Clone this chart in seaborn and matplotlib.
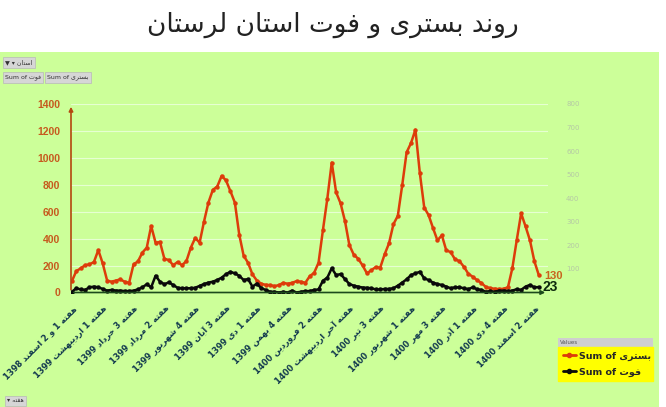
import numpy as np
import pandas as pd
import seaborn as sns
import matplotlib.pyplot as plt
from matplotlib.lines import Line2D
from matplotlib.patches import Rectangle

# weekly values for Lorestan
hospitalized = [84, 159, 179, 203, 209, 226, 315, 216, 89, 80,
                89, 97, 80, 72, 209, 231, 296, 333, 494, 370,
                375, 251, 241, 203, 226, 203, 233, 333, 405, 370,
                527, 668, 762, 787, 866, 832, 752, 668, 430, 273,
                221, 134, 89, 65, 57, 55, 47, 55, 72, 65,
                72, 84, 80, 72, 121, 146, 221, 464, 698, 965,
                743, 663, 531, 352, 281, 251, 201, 142, 166, 189,
                184, 283, 365, 507, 569, 797, 1041, 1110, 1209, 887,
                631, 574, 478, 387, 425, 313, 300, 246, 233, 191,
                140, 117, 92, 70, 41, 32, 28, 25, 28, 38,
                180, 388, 588, 491, 388, 233, 130]
deaths = [3, 18, 13, 11, 22, 25, 22, 15, 8, 11,
          8, 8, 6, 6, 8, 13, 22, 35, 22, 71,
          46, 35, 43, 32, 20, 18, 18, 18, 20, 28,
          36, 42, 46, 53, 63, 78, 88, 81, 71, 53,
          57, 25, 38, 18, 11, 3, 3, 0, 3, 0,
          8, 0, 3, 6, 6, 11, 13, 50, 63, 103,
          74, 78, 57, 36, 29, 25, 21, 20, 18, 13,
          13, 15, 15, 18, 29, 42, 56, 74, 81, 88,
          60, 53, 42, 36, 32, 25, 18, 22, 22, 18,
          14, 22, 14, 11, 3, 6, 3, 8, 8, 6,
          8, 14, 11, 25, 32, 22, 23]
week_labels = ['هفته 1 و 2 اسفند 1398', 'هفته 1 اردیبهشت 1399', 'هفته 3 خرداد 1399',
               'هفته 2 مرداد 1399', 'هفته 4 شهریور 1399', 'هفته 3 آبان 1399',
               'هفته 1 دی 1399', 'هفته 4 بهمن 1399', 'هفته 2 فروردین 1400',
               'هفته آخر اردیبهشت 1400', 'هفته 3 تیر 1400', 'هفته 1 شهریور 1400',
               'هفته 3 مهر 1400', 'هفته 1 آذر 1400', 'هفته 4 دی 1400', 'هفته 2 اسفند 1400']
label_step = 7
title = 'روند بستری و فوت استان لرستان'
hosp_name = 'بستری'
death_name = 'فوت'

# matplotlib has no arabic shaping, so pick the presentation forms by hand
FORMS = {
    'ا': ('\uFE8D', '\uFE8E', None, None), 'آ': ('\uFE81', '\uFE82', None, None),
    'ب': ('\uFE8F', '\uFE90', '\uFE91', '\uFE92'), 'ت': ('\uFE95', '\uFE96', '\uFE97', '\uFE98'),
    'خ': ('\uFEA5', '\uFEA6', '\uFEA7', '\uFEA8'), 'د': ('\uFEA9', '\uFEAA', None, None),
    'ذ': ('\uFEAB', '\uFEAC', None, None), 'ر': ('\uFEAD', '\uFEAE', None, None),
    'ز': ('\uFEAF', '\uFEB0', None, None), 'س': ('\uFEB1', '\uFEB2', '\uFEB3', '\uFEB4'),
    'ش': ('\uFEB5', '\uFEB6', '\uFEB7', '\uFEB8'), 'ف': ('\uFED1', '\uFED2', '\uFED3', '\uFED4'),
    'ل': ('\uFEDD', '\uFEDE', '\uFEDF', '\uFEE0'), 'م': ('\uFEE1', '\uFEE2', '\uFEE3', '\uFEE4'),
    'ن': ('\uFEE5', '\uFEE6', '\uFEE7', '\uFEE8'), 'ه': ('\uFEE9', '\uFEEA', '\uFEEB', '\uFEEC'),
    'و': ('\uFEED', '\uFEEE', None, None), 'ی': ('\uFBFC', '\uFBFD', '\uFBFE', '\uFBFF'),
}


def shape_word(word):
    out = []
    for k, ch in enumerate(word):
        if ch not in FORMS:
            out.append(ch)
            continue
        prev = word[k - 1] if k > 0 else None
        nxt = word[k + 1] if k + 1 < len(word) else None
        join_prev = prev in FORMS and FORMS[prev][2] is not None
        join_next = nxt in FORMS and FORMS[ch][2] is not None
        iso, fin, ini, med = FORMS[ch]
        if join_prev and join_next:
            out.append(med)
        elif join_prev:
            out.append(fin)
        elif join_next:
            out.append(ini)
        else:
            out.append(iso)
    return ''.join(reversed(out))


def fa(text, rtl=True):
    toks = [shape_word(t) if any(c in FORMS for c in t) else t for t in text.split(' ')]
    if rtl:
        toks = toks[::-1]
    return ' '.join(toks)


RED = '#dd3c0a'
ORANGE = '#c65a1e'
NAVY = '#123a4e'
GREEN_BG = '#ccff99'

sns.set_theme(style='white')
plt.rcParams['font.family'] = ['DejaVu Sans']

df = pd.DataFrame({'week': np.arange(len(hospitalized)),
                   'hosp': hospitalized, 'death': deaths})

fig = plt.figure(figsize=(6.66, 4.07), dpi=100)
fig.patch.set_facecolor('white')
fig.patches.append(Rectangle((0, 0), 659 / 666, 355 / 407, transform=fig.transFigure,
                             facecolor=GREEN_BG, edgecolor='none', zorder=-5))

ax = fig.add_axes([71 / 666, 114.5 / 407, 477 / 666, 188.5 / 407])
ax.set_facecolor('none')
sns.lineplot(data=df, x='week', y='hosp', ax=ax, color=RED, marker='o',
             markersize=3.2, markeredgewidth=0, linewidth=1.8)
ax.set_xlim(-0.2, 108.1)
ax.set_ylim(0, 1400)
ax.set_yticks(range(0, 1401, 200))
ax.yaxis.grid(True, color='#e6ffd2', linewidth=0.8)
ax.xaxis.grid(False)
ax.set_xlabel('')
ax.set_ylabel('')
for s in ax.spines.values():
    s.set_visible(False)
ax.tick_params(axis='y', length=0, pad=8, labelcolor=ORANGE, labelsize=7.5)
for t in ax.get_yticklabels():
    t.set_fontweight('bold')
    t.set_family('Liberation Sans')

ticks = list(range(0, len(hospitalized), label_step))
ax.set_xticks(ticks)
ax.set_xticklabels([fa(t) for t in week_labels], rotation=45, ha='right',
                   rotation_mode='anchor', fontsize=6, fontweight='bold', color=NAVY)
ax.tick_params(axis='x', length=0, pad=8)

ax2 = ax.twinx()
sns.lineplot(data=df, x='week', y='death', ax=ax2, color='#0a0a0a', marker='o',
             markersize=3.2, markeredgewidth=0, linewidth=1.8)
ax2.set_ylim(0, 800)
ax2.set_yticks(range(100, 801, 100))
ax2.set_ylabel('')
ax2.grid(False)
for s in ax2.spines.values():
    s.set_visible(False)
ax2.tick_params(axis='y', length=0, pad=13, labelcolor='#b5c8a5', labelsize=5)

# axis lines with arrow heads
ax.annotate('', xy=(0, 1.0), xytext=(0, 0), xycoords='axes fraction',
            arrowprops=dict(arrowstyle='-|>', color='#b4470f', lw=1.2, mutation_scale=6))
ax2.annotate('', xy=(1.0, 0), xytext=(0, 0), xycoords='axes fraction',
             arrowprops=dict(arrowstyle='-|>', color='#1c4a1c', lw=1.2, mutation_scale=6))

last = len(hospitalized) - 1
ax.annotate(str(hospitalized[-1]), xy=(last, hospitalized[-1]), xytext=(4, -1),
            textcoords='offset points', va='center', ha='left', color='#c8641e',
            fontsize=8, fontweight='bold', family='Liberation Sans')
ax2.annotate(str(deaths[-1]), xy=(last, deaths[-1]), xytext=(3, 0),
             textcoords='offset points', va='center', ha='left', color='#0d2a0d',
             fontsize=10, fontweight='bold', family='Liberation Sans')

fig.text(0.5, 1 - 25 / 407, fa(title), ha='center', va='center', fontsize=19, color='#222222')

# pivot-chart buttons
btn = dict(boxstyle='square,pad=0.35', fc='#d6d6d6', ec='#b8b8b8', lw=0.5)
fig.text(5 / 666, 1 - 62.5 / 407, '▼ ▾ ' + fa('استان'), fontsize=4.5, va='center', color='#333', bbox=btn)
fig.text(5 / 666, 1 - 77.5 / 407, fa('Sum of ' + death_name, rtl=False), fontsize=4.5, va='center', color='#333', bbox=btn)
fig.text(47 / 666, 1 - 77.5 / 407, fa('Sum of ' + hosp_name, rtl=False), fontsize=4.5, va='center', color='#333', bbox=btn)
fig.text(7 / 666, 1 - 401 / 407, '▾ ' + fa('هفته'), fontsize=4.5, va='center', color='#333', bbox=btn)

# legend box
fig.patches.append(Rectangle((558 / 666, (407 - 347) / 407), 95 / 666, 9 / 407,
                             transform=fig.transFigure, facecolor='#cfcfcf', edgecolor='none'))
fig.text(560 / 666, 1 - 342.5 / 407, 'Values', fontsize=4, va='center', color='#555')
handles = [Line2D([], [], color=RED, marker='o', ms=3, lw=2),
           Line2D([], [], color='#0a0a0a', marker='o', ms=3, lw=2)]
fig.legend(handles, [fa('Sum of ' + hosp_name, rtl=False), fa('Sum of ' + death_name, rtl=False)],
           loc='upper left', bbox_to_anchor=(558 / 666, 19 / 407, 95 / 666, 41 / 407),
           mode='expand', facecolor='#ffff00', edgecolor='#ffff00', framealpha=1,
           fancybox=False, borderpad=0.5, labelspacing=0.7, handlelength=1.4,
           handletextpad=0.3, borderaxespad=0, prop=dict(size=6.8, weight='bold'))

fig.savefig('out.png', dpi=100)
